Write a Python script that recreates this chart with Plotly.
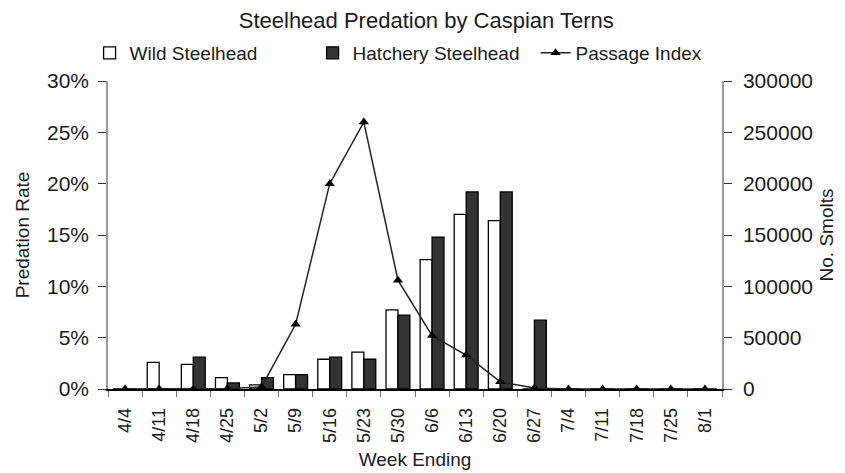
import plotly.graph_objects as go

weeks = ["4/4", "4/11", "4/18", "4/25", "5/2", "5/9", "5/16", "5/23", "5/30",
         "6/6", "6/13", "6/20", "6/27", "7/4", "7/11", "7/18", "7/25", "8/1"]
wild_rate = [0, 2.6, 2.4, 1.1, 0.4, 1.4, 2.9, 3.6, 7.7,
             12.6, 17.0, 16.4, 0, 0, 0, 0, 0, 0]
hatchery_rate = [0, 0, 3.1, 0.6, 1.1, 1.4, 3.1, 2.9, 7.2,
                 14.8, 19.2, 19.2, 6.7, 0, 0, 0, 0, 0]
passage_index = [0, 0, 0, 500, 2000, 63000, 200000, 260000, 106000,
                 52000, 33000, 7000, 1000, 0, 0, 0, 0, 0]

font = "Liberation Sans, Arial, sans-serif"
txt = "#1a1a1a"

fig = go.Figure()
fig.add_trace(go.Bar(x=weeks, y=wild_rate, name="Wild Steelhead",
                     marker=dict(color="white", line=dict(color="black", width=1.3))))
fig.add_trace(go.Bar(x=weeks, y=hatchery_rate, name="Hatchery Steelhead",
                     marker=dict(color="#333333", line=dict(color="black", width=1.3))))
fig.add_trace(go.Scatter(x=weeks, y=passage_index, name="Passage Index", yaxis="y2",
                         mode="lines+markers",
                         line=dict(color="#222222", width=1.5),
                         marker=dict(symbol="triangle-up", size=9, color="black")))

fig.update_layout(
    width=845, height=473,
    paper_bgcolor="white", plot_bgcolor="white",
    margin=dict(l=100, r=131, t=73, b=92),
    font=dict(family=font, size=19, color=txt),
    title=dict(text="Steelhead Predation by Caspian Terns", x=0.495, xanchor="center",
               y=0.975, yanchor="middle", font=dict(size=22, color=txt)),
    barmode="group", bargap=0.3, bargroupgap=0,
    showlegend=True,
    legend=dict(orientation="h", x=-0.03, xanchor="left", y=1.091, yanchor="middle",
                font=dict(size=19), entrywidth=178, tracegroupgap=0,
                bgcolor="rgba(0,0,0,0)"),
    xaxis=dict(type="category", range=[-0.5, 17.5], tickangle=-90, showline=True,
               linecolor="black", linewidth=1.5,
               ticks="outside", tickson="boundaries", ticklen=6, tickcolor="#777",
               ticklabelstandoff=10,
               showgrid=False, automargin=False,
               title=dict(text="Week Ending", font=dict(size=19), standoff=11),
               tickfont=dict(size=18)),
    yaxis=dict(range=[0, 30], dtick=5, ticksuffix="%", showline=True, linecolor="#999",
               linewidth=1.5, ticks="outside", ticklen=8, tickcolor="#333", showgrid=False,
               zeroline=False, tickfont=dict(size=21), automargin=False, ticklabelstandoff=5,
               title=dict(text="Predation Rate", font=dict(size=19), standoff=12)),
    yaxis2=dict(range=[0, 300000], dtick=50000, tickformat="d", overlaying="y", side="right",
                showline=True, linecolor="#999", linewidth=1.5, ticks="outside", ticklen=8,
                tickcolor="#333", showgrid=False, zeroline=False, tickfont=dict(size=21),
                automargin=False, ticklabelstandoff=7,
                title=dict(text="No. Smolts", font=dict(size=19), standoff=8)),
)

fig.write_html("out.html")
